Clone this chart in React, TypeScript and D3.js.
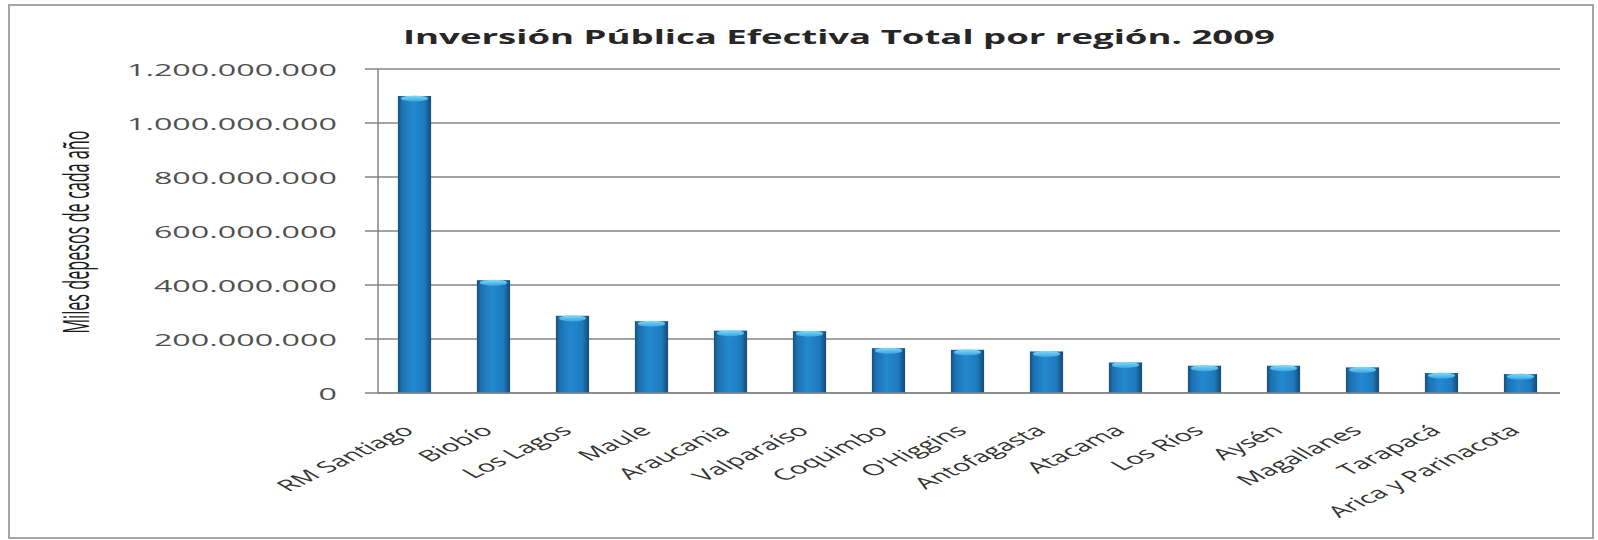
import React from "react";
import * as d3 from "d3";

const categories = [
  "RM Santiago",
  "Biobío",
  "Los Lagos",
  "Maule",
  "Araucania",
  "Valparaíso",
  "Coquimbo",
  "O'Higgins",
  "Antofagasta",
  "Atacama",
  "Los Ríos",
  "Aysén",
  "Magallanes",
  "Tarapacá",
  "Arica y Parinacota",
];

const values = [
  1100000000, 418000000, 286000000, 266000000, 231000000, 229000000,
  166000000, 160000000, 154000000, 113000000, 101000000, 101000000,
  95000000, 74000000, 70000000,
];

const yTicks = [0, 200000000, 400000000, 600000000, 800000000, 1000000000, 1200000000];

const title = "Inversión Pública Efectiva Total por región. 2009";
const yTitle = "Miles depesos de cada año";

const W = 1598;
const H = 540;
const plotLeft = 375;
const plotRight = 1560;
const plotTop = 69;
const plotBottom = 393;
const SX = 1.9;

const locale = d3.formatLocale({
  decimal: ",",
  thousands: ".",
  grouping: [3],
  currency: ["", ""],
});
const fmt = locale.format(",");

export default function App() {
  const x = d3
    .scaleBand<string>()
    .domain(categories)
    .range([plotLeft, plotRight])
    .paddingInner(0.58)
    .paddingOuter(0.29);
  const y = d3.scaleLinear().domain([0, 1200000000]).range([plotBottom, plotTop]);
  const bw = x.bandwidth();
  const axisX = 378;

  return (
    <svg
      width={W}
      height={H}
      style={{ position: "absolute", left: 0, top: 0, background: "#fff" }}
      fontFamily="'Open Sans', sans-serif"
    >
      <defs>
        <linearGradient id="barGrad" x1="0" x2="1" y1="0" y2="0">
          <stop offset="0%" stopColor="#164f7e" />
          <stop offset="12%" stopColor="#1c71b0" />
          <stop offset="45%" stopColor="#2489d0" />
          <stop offset="80%" stopColor="#1e79bc" />
          <stop offset="100%" stopColor="#154a76" />
        </linearGradient>
        <linearGradient id="capGrad" x1="0" x2="0" y1="0" y2="1">
          <stop offset="0%" stopColor="#7fdcff" />
          <stop offset="100%" stopColor="#3aa6e0" />
        </linearGradient>
      </defs>
      <rect x={9} y={5} width={1584} height={533} fill="#fff" stroke="#a6a6a6" strokeWidth={2} />

      <text
        x={403}
        y={44}
        fontSize={19}
        fontWeight={700}
        fill="#262626"
        textLength={872}
        lengthAdjust="spacingAndGlyphs"
      >
        {title}
      </text>

      {yTicks.map((t) => (
        <g key={t}>
          <line
            x1={365}
            x2={plotRight}
            y1={y(t)}
            y2={y(t)}
            stroke="#858585"
            strokeWidth={1.3}
          />
          <text
            transform={`translate(337,${y(t)}) scale(${SX},1)`}
            textAnchor="end"
            dominantBaseline="central"
            fontSize={17}
            fill="#505050"
          >
            {fmt(t)}
          </text>
        </g>
      ))}
      <line x1={axisX} x2={axisX} y1={plotTop} y2={plotBottom} stroke="#858585" strokeWidth={1.5} />

      <text
        transform={`translate(89,232) scale(${SX},1) rotate(-90)`}
        textAnchor="middle"
        fontSize={19}
        fill="#1a1a1a"
        textLength={203}
        lengthAdjust="spacingAndGlyphs"
      >
        {yTitle}
      </text>

      {categories.map((c, i) => {
        const x0 = x(c)!;
        const top = y(values[i]);
        return (
          <g key={c}>
            <rect x={x0} y={top} width={bw} height={plotBottom - top} fill="url(#barGrad)" />
            <ellipse
              cx={x0 + bw / 2}
              cy={top + 2.5}
              rx={bw / 2 - 3}
              ry={3}
              fill="url(#capGrad)"
            />
          </g>
        );
      })}
      <line x1={axisX} x2={plotRight} y1={plotBottom} y2={plotBottom} stroke="#858585" strokeWidth={1.5} />

      {categories.map((c) => {
        const cx = x(c)! + bw / 2;
        return (
          <text
            key={c}
            transform={`translate(${cx + 1},432) scale(${SX},1) rotate(-42)`}
            textAnchor="end"
            fontSize={15.5}
            fill="#333"
          >
            {c}
          </text>
        );
      })}
    </svg>
  );
}
